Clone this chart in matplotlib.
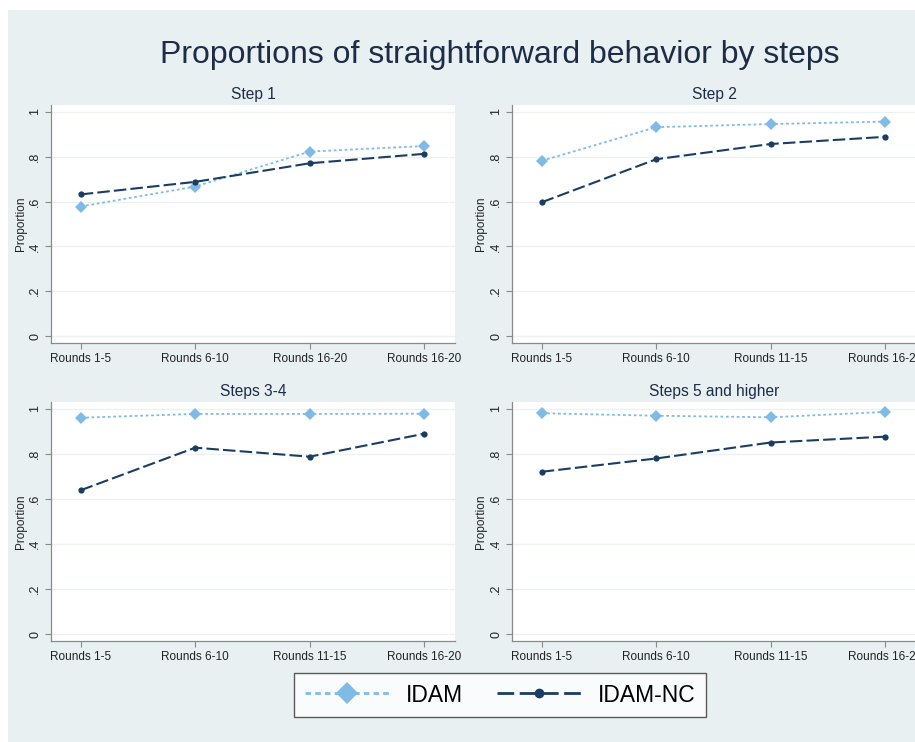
import numpy as np
import matplotlib.pyplot as plt
from matplotlib.patches import Rectangle
from matplotlib.lines import Line2D

plt.rcParams['font.family'] = ['Liberation Sans', 'DejaVu Sans']

# Datos
paneles = ['Step 1', 'Step 2', 'Steps 3-4', 'Steps 5 and higher']
etiquetas = [
    ['Rounds 1-5', 'Rounds 6-10', 'Rounds 16-20', 'Rounds 16-20'],
    ['Rounds 1-5', 'Rounds 6-10', 'Rounds 11-15', 'Rounds 16-20'],
    ['Rounds 1-5', 'Rounds 6-10', 'Rounds 11-15', 'Rounds 16-20'],
    ['Rounds 1-5', 'Rounds 6-10', 'Rounds 11-15', 'Rounds 16-20'],
]
idam = [
    [0.578, 0.667, 0.823, 0.848],
    [0.782, 0.932, 0.946, 0.957],
    [0.961, 0.978, 0.978, 0.979],
    [0.981, 0.970, 0.963, 0.987],
]
idam_nc = [
    [0.632, 0.688, 0.771, 0.813],
    [0.597, 0.789, 0.857, 0.889],
    [0.639, 0.828, 0.788, 0.890],
    [0.721, 0.780, 0.851, 0.877],
]

W, H = 915, 742
fondo = '#e8f0f2'
azul_claro = '#7fbbe6'
azul_osc = '#1a3d63'
texto = '#1e2c48'

fig = plt.figure(figsize=(W / 100, H / 100), dpi=100, facecolor='white')
fig.patches.append(Rectangle((8 / W, 0), 1, 1 - 10 / H, transform=fig.transFigure,
                             facecolor=fondo, edgecolor='none', zorder=-10))

# posiciones en pixeles (izq, arriba, abajo)
cajas = [(51, 105, 343), (512, 105, 343), (51, 402, 641), (512, 402, 641)]
ancho = 404

for k, (x0, top, bot) in enumerate(cajas):
    ax = fig.add_axes([x0 / W, 1 - bot / H, ancho / W, (bot - top) / H])
    ax.set_facecolor('white')
    x = np.arange(4)
    ax.plot(x, idam[k], color=azul_claro, lw=1.3, dashes=(1.5, 1.5),
            marker='D', markersize=6.5, markeredgewidth=0, zorder=3)
    ax.plot(x, idam_nc[k], color=azul_osc, lw=1.5, dashes=(6, 2),
            marker='o', markersize=4.5, markeredgewidth=0, zorder=4)
    ax.set_xlim(-0.26, 3.27)
    ax.set_ylim(-0.031, 1.031)
    ax.set_xticks(x)
    ax.set_xticklabels(etiquetas[k], fontsize=8.5, color='#222222')
    ax.set_yticks([0, 0.2, 0.4, 0.6, 0.8, 1])
    ax.set_yticklabels(['0', '.2', '.4', '.6', '.8', '1'], fontsize=9,
                       rotation=90, va='center', color='#222222')
    ax.grid(axis='y', color='#edf1f3', lw=1)
    ax.set_axisbelow(True)
    for s in ['top', 'right']:
        ax.spines[s].set_visible(False)
    for s in ['left', 'bottom']:
        ax.spines[s].set_color('#8a8a8a')
        ax.spines[s].set_linewidth(0.9)
    ax.tick_params(length=4, width=0.8, color='#8a8a8a', pad=3)
    ax.set_ylabel('Proportion', fontsize=8.5, labelpad=2, color='#222222')
    ax.set_title(paneles[k], fontsize=11.2, color=texto, pad=4)

fig.text(500 / W, 1 - 55 / H, 'Proportions of straightforward behavior by steps',
         fontsize=23, color=texto, ha='center', va='center')

h1 = Line2D([], [], color=azul_claro, lw=2, dashes=(2, 1.5), marker='D',
            markersize=11, markeredgewidth=0)
h2 = Line2D([], [], color=azul_osc, lw=2, dashes=(6, 2), marker='o',
            markersize=7, markeredgewidth=0)
leg = fig.legend([h1, h2], ['IDAM', 'IDAM-NC'], loc='center',
                 bbox_to_anchor=(500 / W, 1 - 695 / H), ncol=2, fontsize=16.5,
                 frameon=True, fancybox=False, handlelength=3.7, columnspacing=1.5,
                 handletextpad=0.7, borderpad=0.45)
leg.get_frame().set_edgecolor('#333333')
leg.get_frame().set_linewidth(1)

fig.savefig('out.png', dpi=100, facecolor=fig.get_facecolor())
